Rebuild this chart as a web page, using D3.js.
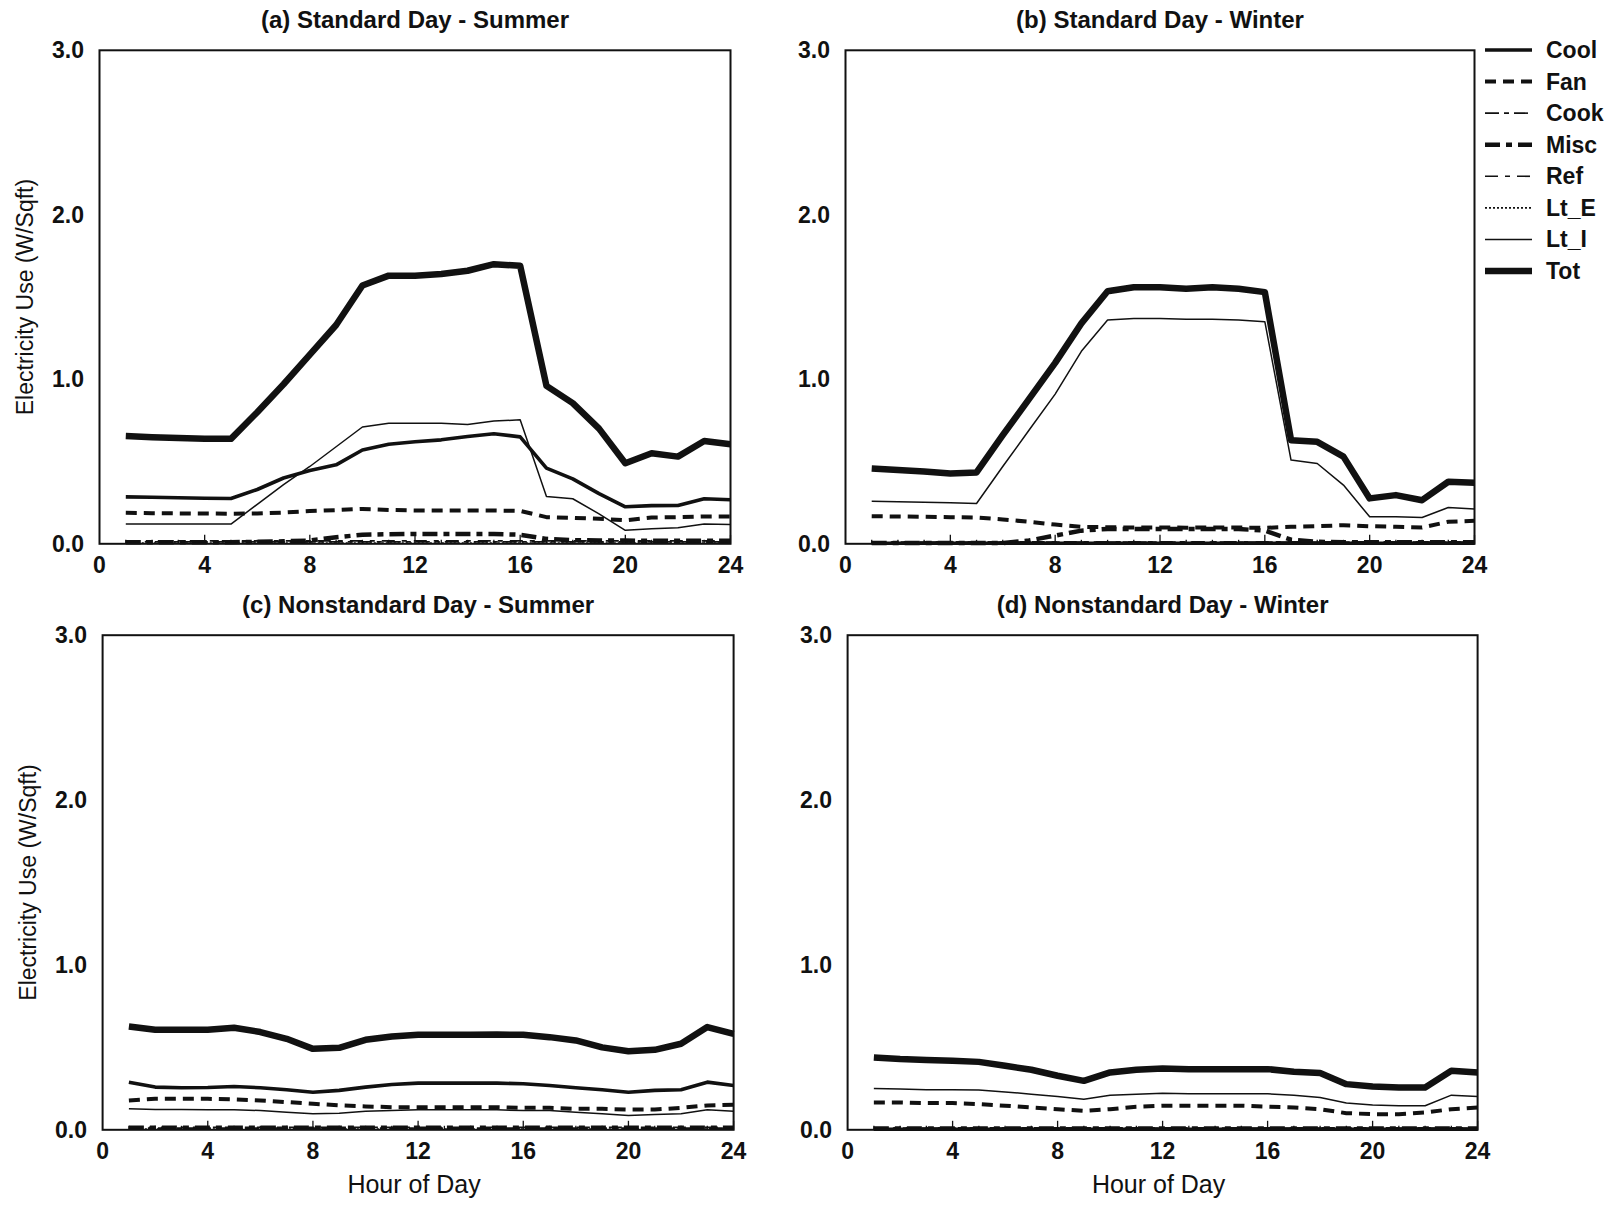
<!DOCTYPE html>
<html><head><meta charset="utf-8">
<script src="https://cdn.jsdelivr.net/npm/d3@7"></script>
<style>
body{margin:0;background:#fff;}
text{font-family:"Liberation Sans",Arial,sans-serif;fill:#111;}
</style></head>
<body><svg id="chart" width="1609" height="1205"></svg>
<script>
const hours = [1,2,3,4,5,6,7,8,9,10,11,12,13,14,15,16,17,18,19,20,21,22,23,24];
const seriesNames = ["Cool","Fan","Cook","Misc","Ref","Lt_E","Lt_I","Tot"];
const panelTitles = ["(a) Standard Day - Summer","(b) Standard Day - Winter","(c) Nonstandard Day - Summer","(d) Nonstandard Day - Winter"];
const xTickValues = [0,4,8,12,16,20,24];
const yTickValues = [0,1,2,3];
const yAxisTitle = "Electricity Use (W/Sqft)";
const xAxisTitle = "Hour of Day";

// (a) Standard Day - Summer
const aCool = [0.285,0.283,0.28,0.277,0.275,0.33,0.40,0.445,0.48,0.57,0.605,0.62,0.632,0.652,0.669,0.65,0.46,0.395,0.305,0.225,0.232,0.233,0.274,0.268];
const aFan  = [0.188,0.186,0.185,0.184,0.183,0.184,0.19,0.199,0.205,0.212,0.206,0.203,0.203,0.203,0.202,0.2,0.162,0.158,0.152,0.143,0.16,0.162,0.166,0.166];
const aCook = [0.012,0.012,0.012,0.012,0.012,0.012,0.012,0.012,0.012,0.012,0.012,0.012,0.012,0.012,0.012,0.012,0.012,0.012,0.012,0.012,0.012,0.012,0.012,0.012];
const aMisc = [0.01,0.01,0.01,0.01,0.01,0.012,0.015,0.02,0.04,0.055,0.058,0.06,0.06,0.06,0.06,0.055,0.03,0.022,0.02,0.02,0.018,0.018,0.018,0.018];
const aRef  = [0.018,0.018,0.018,0.018,0.018,0.018,0.018,0.018,0.018,0.018,0.018,0.018,0.018,0.018,0.018,0.018,0.018,0.018,0.018,0.018,0.018,0.018,0.018,0.018];
const aLtE  = [0.005,0.005,0.005,0.005,0.005,0.005,0.005,0.005,0.005,0.005,0.005,0.005,0.005,0.005,0.005,0.005,0.005,0.005,0.005,0.005,0.005,0.005,0.005,0.005];
const aLtI  = [0.12,0.12,0.12,0.12,0.12,0.24,0.36,0.47,0.59,0.71,0.733,0.733,0.733,0.725,0.746,0.754,0.288,0.274,0.182,0.082,0.091,0.097,0.12,0.118];
const aTot  = [0.655,0.648,0.643,0.638,0.638,0.80,0.97,1.15,1.33,1.57,1.63,1.63,1.64,1.66,1.70,1.69,0.96,0.855,0.70,0.49,0.55,0.53,0.625,0.605];

// (b) Standard Day - Winter
const bCool = [0.003,0.003,0.003,0.003,0.003,0.003,0.003,0.003,0.003,0.003,0.003,0.003,0.003,0.003,0.003,0.003,0.003,0.003,0.003,0.003,0.003,0.003,0.003,0.003];
const bFan  = [0.168,0.166,0.164,0.162,0.16,0.148,0.134,0.117,0.103,0.101,0.099,0.099,0.098,0.099,0.099,0.097,0.103,0.107,0.113,0.107,0.103,0.099,0.134,0.14];
const bCook = [0.01,0.01,0.01,0.01,0.01,0.01,0.01,0.01,0.01,0.01,0.01,0.01,0.01,0.01,0.01,0.01,0.01,0.01,0.01,0.01,0.01,0.01,0.01,0.01];
const bMisc = [0.005,0.005,0.005,0.005,0.005,0.005,0.02,0.05,0.08,0.09,0.09,0.09,0.09,0.09,0.09,0.08,0.025,0.012,0.01,0.01,0.01,0.01,0.01,0.01];
const bRef  = [0.012,0.012,0.012,0.012,0.012,0.012,0.012,0.012,0.012,0.012,0.012,0.012,0.012,0.012,0.012,0.012,0.012,0.012,0.012,0.012,0.012,0.012,0.012,0.012];
const bLtE  = [0.004,0.004,0.004,0.004,0.004,0.004,0.004,0.004,0.004,0.004,0.004,0.004,0.004,0.004,0.004,0.004,0.004,0.004,0.004,0.004,0.004,0.004,0.004,0.004];
const bLtI  = [0.259,0.256,0.252,0.249,0.245,0.47,0.69,0.91,1.17,1.36,1.37,1.37,1.365,1.365,1.36,1.35,0.509,0.488,0.357,0.164,0.164,0.16,0.221,0.211];
const bTot  = [0.458,0.448,0.44,0.428,0.434,0.66,0.88,1.1,1.34,1.535,1.56,1.56,1.55,1.56,1.55,1.53,0.63,0.62,0.53,0.276,0.296,0.265,0.377,0.371];

// (c) Nonstandard Day - Summer
const cCool = [0.289,0.259,0.255,0.257,0.263,0.255,0.243,0.228,0.239,0.259,0.275,0.283,0.283,0.283,0.283,0.279,0.269,0.255,0.243,0.228,0.239,0.243,0.289,0.269];
const cFan  = [0.178,0.188,0.188,0.188,0.184,0.178,0.168,0.158,0.148,0.142,0.137,0.137,0.137,0.137,0.137,0.133,0.133,0.127,0.127,0.123,0.123,0.133,0.148,0.152];
const cCook = [0.01,0.01,0.01,0.01,0.01,0.01,0.01,0.01,0.01,0.01,0.01,0.01,0.01,0.01,0.01,0.01,0.01,0.01,0.01,0.01,0.01,0.01,0.01,0.01];
const cMisc = [0.012,0.012,0.012,0.012,0.012,0.012,0.012,0.012,0.012,0.012,0.012,0.012,0.012,0.012,0.012,0.012,0.012,0.012,0.012,0.012,0.012,0.012,0.012,0.012];
const cRef  = [0.015,0.015,0.015,0.015,0.015,0.015,0.015,0.015,0.015,0.015,0.015,0.015,0.015,0.015,0.015,0.015,0.015,0.015,0.015,0.015,0.015,0.015,0.015,0.015];
const cLtE  = [0.005,0.005,0.005,0.005,0.005,0.005,0.005,0.005,0.005,0.005,0.005,0.005,0.005,0.005,0.005,0.005,0.005,0.005,0.005,0.005,0.005,0.005,0.005,0.005];
const cLtI  = [0.127,0.123,0.123,0.121,0.121,0.117,0.107,0.097,0.101,0.113,0.117,0.121,0.121,0.121,0.121,0.117,0.117,0.107,0.097,0.087,0.093,0.097,0.121,0.113];
const cTot  = [0.627,0.607,0.607,0.607,0.619,0.593,0.552,0.491,0.497,0.546,0.566,0.576,0.576,0.576,0.578,0.576,0.562,0.542,0.5,0.477,0.485,0.522,0.623,0.582];

// (d) Nonstandard Day - Winter
const dCool = [0.003,0.003,0.003,0.003,0.003,0.003,0.003,0.003,0.003,0.003,0.003,0.003,0.003,0.003,0.003,0.003,0.003,0.003,0.003,0.003,0.003,0.003,0.003,0.003];
const dFan  = [0.166,0.166,0.162,0.162,0.156,0.146,0.135,0.125,0.115,0.125,0.14,0.146,0.146,0.146,0.146,0.14,0.135,0.125,0.101,0.095,0.095,0.105,0.125,0.135];
const dCook = [0.01,0.01,0.01,0.01,0.01,0.01,0.01,0.01,0.01,0.01,0.01,0.01,0.01,0.01,0.01,0.01,0.01,0.01,0.01,0.01,0.01,0.01,0.01,0.01];
const dMisc = [0.008,0.008,0.008,0.008,0.008,0.008,0.008,0.008,0.008,0.008,0.008,0.008,0.008,0.008,0.008,0.008,0.008,0.008,0.008,0.008,0.008,0.008,0.008,0.008];
const dRef  = [0.012,0.012,0.012,0.012,0.012,0.012,0.012,0.012,0.012,0.012,0.012,0.012,0.012,0.012,0.012,0.012,0.012,0.012,0.012,0.012,0.012,0.012,0.012,0.012];
const dLtE  = [0.004,0.004,0.004,0.004,0.004,0.004,0.004,0.004,0.004,0.004,0.004,0.004,0.004,0.004,0.004,0.004,0.004,0.004,0.004,0.004,0.004,0.004,0.004,0.004];
const dLtI  = [0.251,0.247,0.243,0.243,0.241,0.23,0.216,0.202,0.186,0.21,0.216,0.222,0.218,0.218,0.218,0.218,0.21,0.196,0.162,0.15,0.146,0.146,0.21,0.202];
const dTot  = [0.439,0.429,0.423,0.419,0.412,0.388,0.364,0.328,0.297,0.348,0.364,0.372,0.368,0.368,0.368,0.368,0.352,0.344,0.277,0.263,0.257,0.257,0.358,0.348];

const panelData = [
  [aCool,aFan,aCook,aMisc,aRef,aLtE,aLtI,aTot],
  [bCool,bFan,bCook,bMisc,bRef,bLtE,bLtI,bTot],
  [cCool,cFan,cCook,cMisc,cRef,cLtE,cLtI,cTot],
  [dCool,dFan,dCook,dMisc,dRef,dLtE,dLtI,dTot]
];

// styles per series (order as seriesNames)
const styles = [
  {w:3.6, dash:null},
  {w:4, dash:"11,7"},
  {w:1.6, dash:"14,5,5,5"},
  {w:4.5, dash:"15,6,6,6"},
  {w:1.6, dash:"13,7,5,7"},
  {w:1.6, dash:"2,2"},
  {w:1.5, dash:null},
  {w:6.5, dash:null}
];

const layout = [
  {x:99.5, y:50.3, w:631, h:493.5, yLab:true, xLab:false, labRight:84},
  {x:845.5, y:50.3, w:629, h:493.5, yLab:false, xLab:false, labRight:830},
  {x:102.6, y:635.2, w:631, h:494.6, yLab:true, xLab:true, labRight:87},
  {x:847.6, y:635.2, w:630, h:494.6, yLab:false, xLab:true, labRight:832}
];

const svg = d3.select("#chart");
const ink = "#111";

layout.forEach((L, pi) => {
  const x = d3.scaleLinear().domain([0,24]).range([L.x, L.x + L.w]);
  const y = d3.scaleLinear().domain([0,3]).range([L.y + L.h, L.y]);
  const g = svg.append("g");

  // inner ticks (minor every hour, major every 4)
  const bot = y(0);
  g.selectAll("line.minor").data(hours).enter().append("line")
    .attr("x1", d => x(d)).attr("x2", d => x(d))
    .attr("y1", bot).attr("y2", d => bot - (d % 4 === 0 ? 9 : 4))
    .attr("stroke", ink).attr("stroke-width", 1.3);

  // series
  const line = d3.line().x((d,i) => x(hours[i])).y(d => y(d));
  panelData[pi].forEach((arr, si) => {
    const st = styles[si];
    g.append("path").datum(arr).attr("d", line)
      .attr("fill","none").attr("stroke", ink)
      .attr("stroke-width", st.w)
      .attr("stroke-linejoin","round")
      .attr("stroke-dasharray", st.dash);
  });

  // frame
  g.append("rect").attr("x", L.x).attr("y", L.y).attr("width", L.w).attr("height", L.h)
    .attr("fill","none").attr("stroke", ink).attr("stroke-width", 2);

  // x tick labels
  g.selectAll("text.xt").data(xTickValues).enter().append("text")
    .attr("x", d => x(d)).attr("y", bot + 29)
    .attr("text-anchor","middle").attr("font-size", 23).style("font-weight","bold")
    .text(d => d);

  // y tick labels
  g.selectAll("text.yt").data(yTickValues).enter().append("text")
    .attr("x", L.labRight).attr("y", d => y(d) + 8)
    .attr("text-anchor","end").attr("font-size", 23).style("font-weight","bold")
    .text(d => d3.format(".1f")(d));

  // title
  g.append("text").attr("x", L.x + L.w/2).attr("y", L.y - 22)
    .attr("text-anchor","middle").attr("font-size", 24).style("font-weight","bold")
    .text(panelTitles[pi]);

  if (L.yLab) {
    g.append("text")
      .attr("transform", `translate(${L.x - 67},${L.y + L.h/2}) rotate(-90)`)
      .attr("text-anchor","middle").attr("font-size", 23).style("font-weight","normal")
      .text(yAxisTitle);
  }
  if (L.xLab) {
    g.append("text").attr("x", L.x + L.w/2 - 4).attr("y", bot + 63)
      .attr("text-anchor","middle").attr("font-size", 25).style("font-weight","normal")
      .text(xAxisTitle);
  }
});

// legend
const legend = svg.append("g");
const legY = d3.scalePoint().domain(seriesNames).range([50, 271]);
seriesNames.forEach((name, si) => {
  const st = styles[si];
  const yy = legY(name);
  legend.append("line").attr("x1", 1485).attr("x2", 1532).attr("y1", yy).attr("y2", yy)
    .attr("stroke", ink).attr("stroke-width", st.w).attr("stroke-dasharray", st.dash);
  legend.append("text").attr("x", 1546).attr("y", yy + 8).attr("font-size", 23).style("font-weight","bold").text(name);
});
</script></body></html>
